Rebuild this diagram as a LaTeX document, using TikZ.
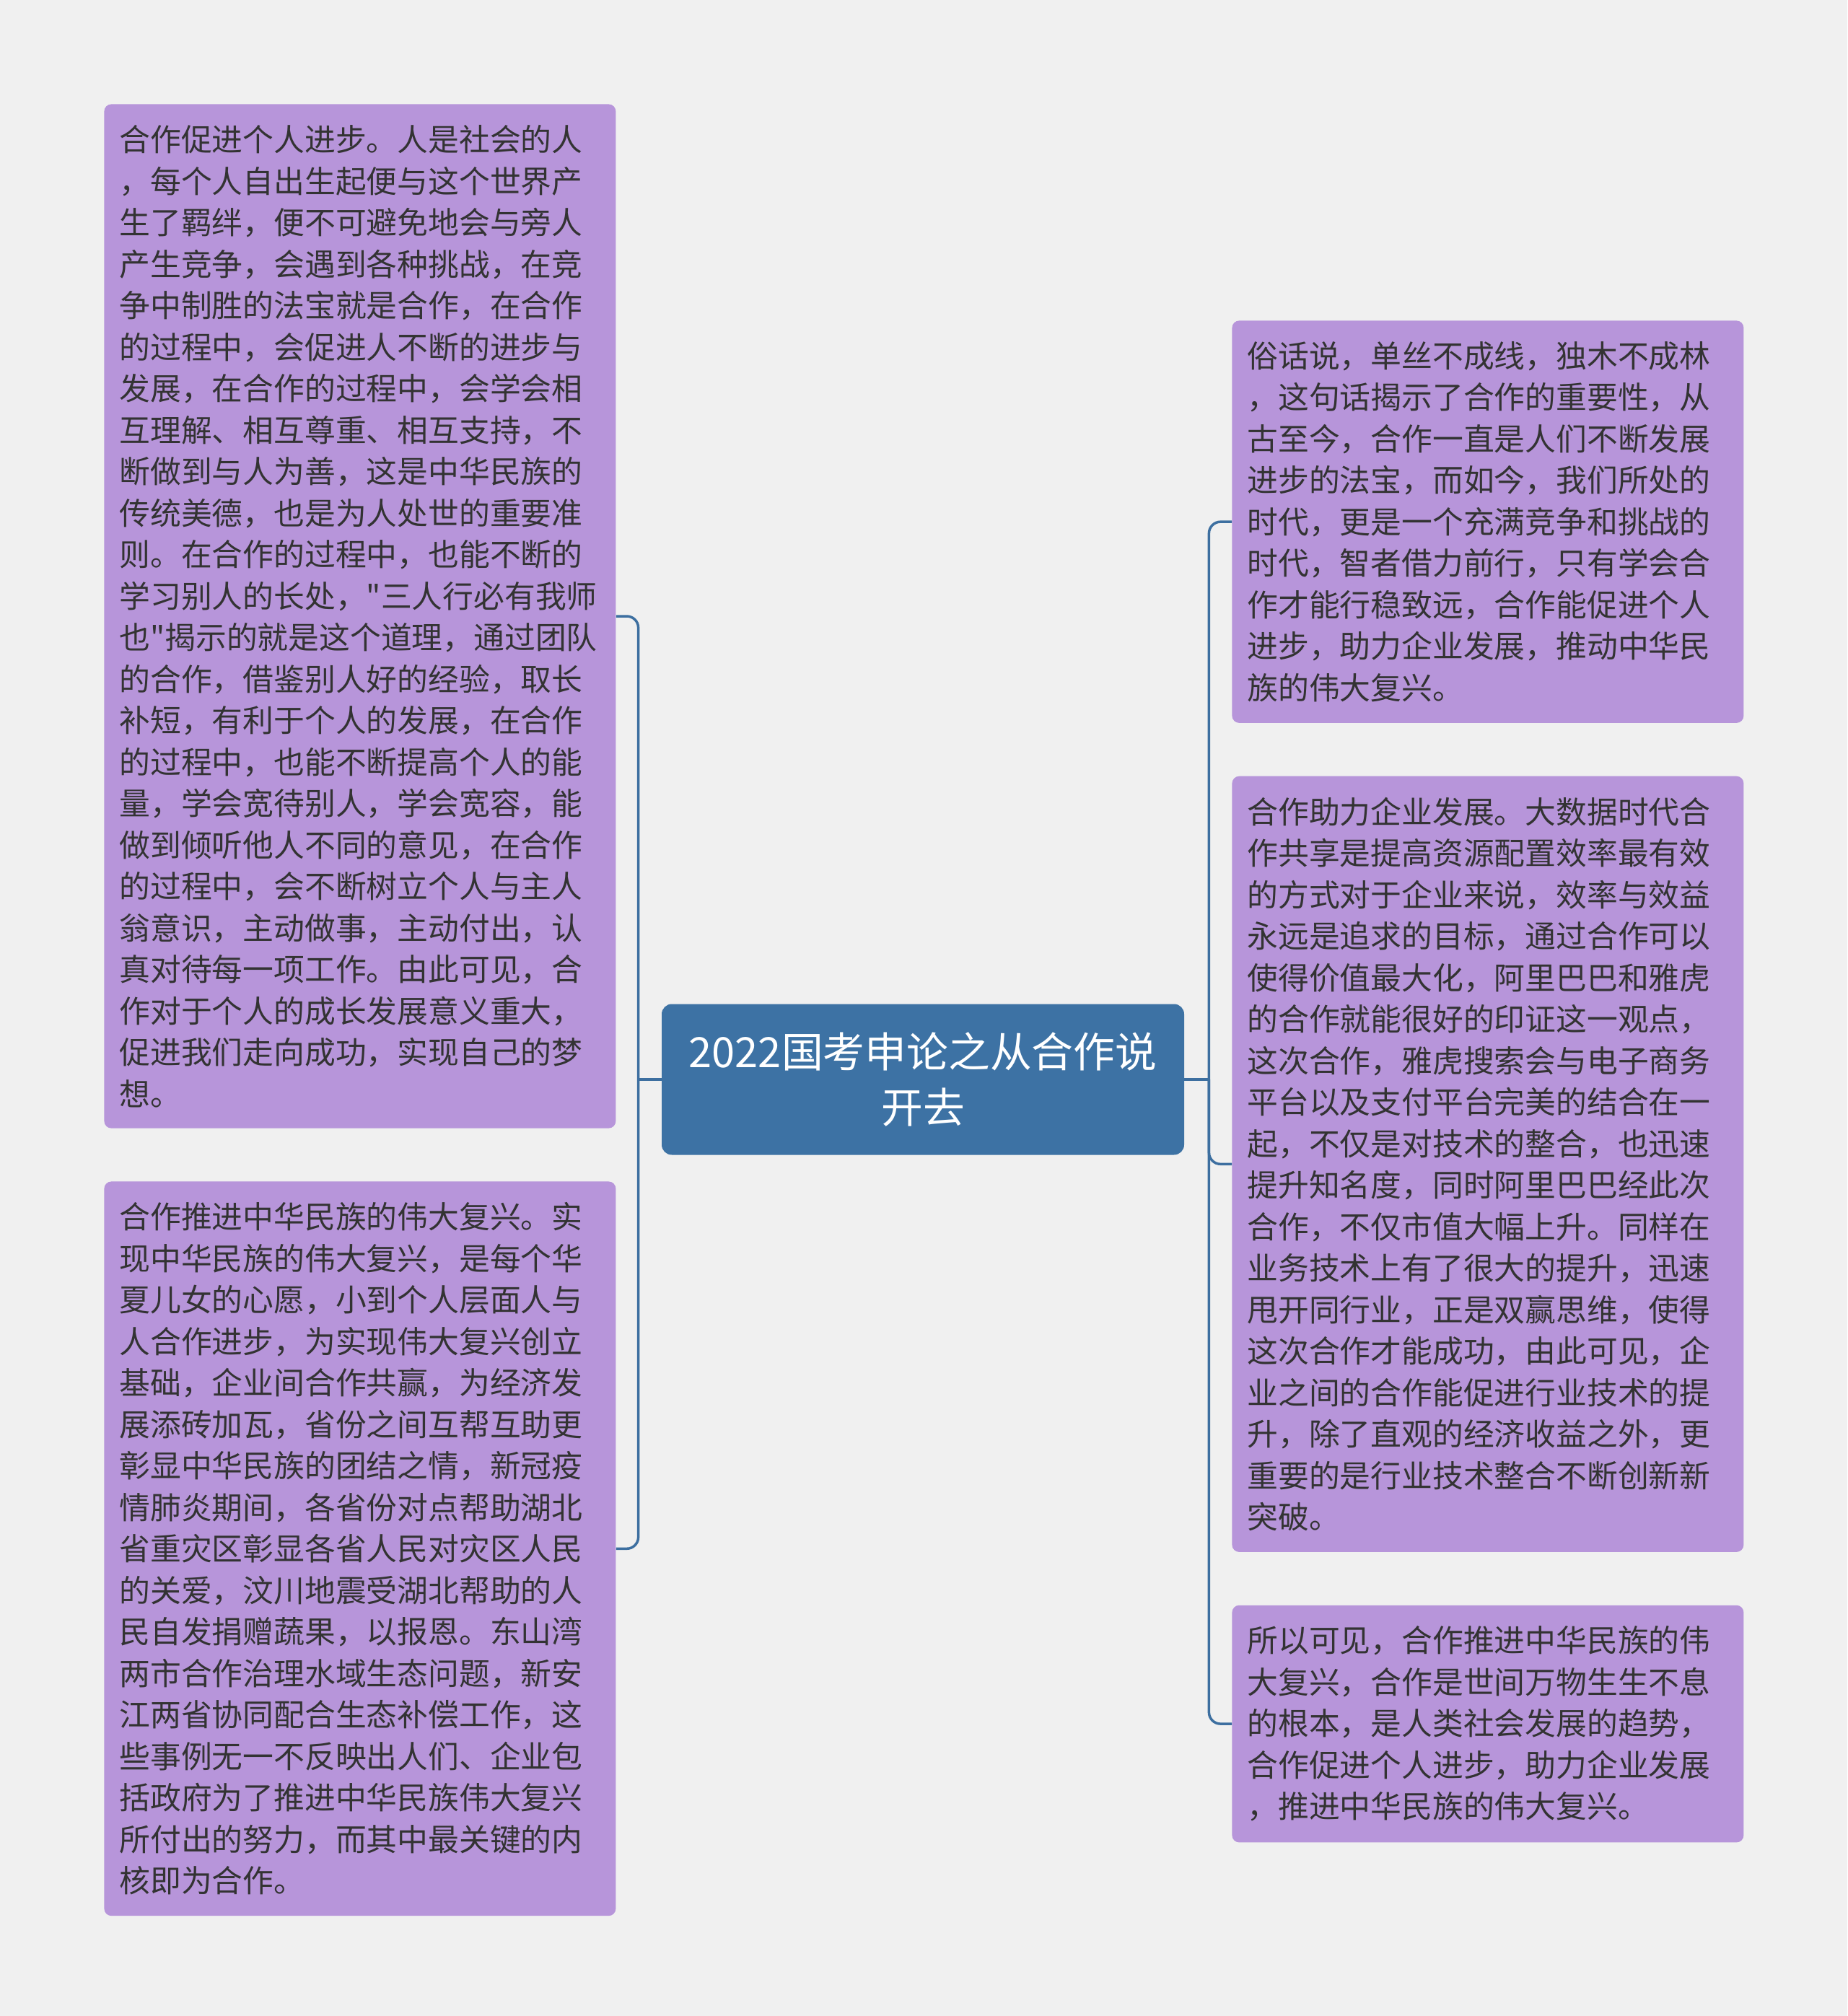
\documentclass[tikz,border=0pt]{standalone}
\usepackage{fontspec}
\newfontfamily\cjkfont{Noto Sans CJK SC}
\usepackage{tikz}
\usetikzlibrary{positioning}
\definecolor{pagebg}{HTML}{F0F0F0}
\definecolor{leafbg}{HTML}{B795DA}
\definecolor{rootbg}{HTML}{3D72A4}
\definecolor{linkcol}{HTML}{3D6FA0}
\definecolor{textcol}{HTML}{333333}

\begin{document}
\begin{tikzpicture}[node distance=36.5pt,
    leaf node/.style={rectangle,rounded corners=5pt,fill=leafbg,text=textcol,
      align=left,text width=333.5pt,inner xsep=10.5pt,inner ysep=14.5pt,
      font=\cjkfont\fontsize{21.4pt}{28.75pt}\selectfont},
    root node/.style={rectangle,rounded corners=7pt,fill=rootbg,text=white,
      align=center,minimum width=362pt,minimum height=104.5pt,
      font=\cjkfont\fontsize{28.9pt}{38.3pt}\selectfont},
    link/.style={draw=linkcol,line width=1.75pt,rounded corners=8pt}]

  \fill[pagebg] (0,0) rectangle (1280pt,-1397pt);

  \node[root node] (root) at (639.5pt,-748pt) {2022国考申论之从合作说\\开去};

  % left side
  \node[leaf node,anchor=north west] (l1) at (72pt,-72pt)
    {合作促进个人进步。人是社会的人\\，每个人自出生起便与这个世界产\\生了羁绊，便不可避免地会与旁人\\产生竞争，会遇到各种挑战，在竞\\争中制胜的法宝就是合作，在合作\\的过程中，会促进人不断的进步与\\发展，在合作的过程中，会学会相\\互理解、相互尊重、相互支持，不\\断做到与人为善，这是中华民族的\\传统美德，也是为人处世的重要准\\则。在合作的过程中，也能不断的\\学习别人的长处，"三人行必有我师\\也"揭示的就是这个道理，通过团队\\的合作，借鉴别人好的经验，取长\\补短，有利于个人的发展，在合作\\的过程中，也能不断提高个人的能\\量，学会宽待别人，学会宽容，能\\做到倾听他人不同的意见，在合作\\的过程中，会不断树立个人与主人\\翁意识，主动做事，主动付出，认\\真对待每一项工作。由此可见，合\\作对于个人的成长发展意义重大，\\促进我们走向成功，实现自己的梦\\想。};
  \node[leaf node] (l2) [below=of l1]
    {合作推进中华民族的伟大复兴。实\\现中华民族的伟大复兴，是每个华\\夏儿女的心愿，小到个人层面人与\\人合作进步，为实现伟大复兴创立\\基础，企业间合作共赢，为经济发\\展添砖加瓦，省份之间互帮互助更\\彰显中华民族的团结之情，新冠疫\\情肺炎期间，各省份对点帮助湖北\\省重灾区彰显各省人民对灾区人民\\的关爱，汶川地震受湖北帮助的人\\民自发捐赠蔬果，以报恩。东山湾\\两市合作治理水域生态问题，新安\\江两省协同配合生态补偿工作，这\\些事例无一不反映出人们、企业包\\括政府为了推进中华民族伟大复兴\\所付出的努力，而其中最关键的内\\核即为合作。};

  % right side
  \node[leaf node,anchor=north west] (r1) at (853.5pt,-222pt)
    {俗话说，单丝不成线，独木不成林\\，这句话揭示了合作的重要性，从\\古至今，合作一直是人们不断发展\\进步的法宝，而如今，我们所处的\\时代，更是一个充满竞争和挑战的\\时代，智者借力前行，只有学会合\\作才能行稳致远，合作能促进个人\\进步，助力企业发展，推动中华民\\族的伟大复兴。};
  \node[leaf node] (r2) [below=of r1]
    {合作助力企业发展。大数据时代合\\作共享是提高资源配置效率最有效\\的方式对于企业来说，效率与效益\\永远是追求的目标，通过合作可以\\使得价值最大化，阿里巴巴和雅虎\\的合作就能很好的印证这一观点，\\这次合作，雅虎搜索会与电子商务\\平台以及支付平台完美的结合在一\\起，不仅是对技术的整合，也迅速\\提升知名度，同时阿里巴巴经此次\\合作，不仅市值大幅上升。同样在\\业务技术上有了很大的提升，迅速\\甩开同行业，正是双赢思维，使得\\这次合作才能成功，由此可见，企\\业之间的合作能促进行业技术的提\\升，除了直观的经济收益之外，更\\重要的是行业技术整合不断创新新\\突破。};
  \node[leaf node] (r3) [below=of r2]
    {所以可见，合作推进中华民族的伟\\大复兴，合作是世间万物生生不息\\的根本，是人类社会发展的趋势，\\合作促进个人进步，助力企业发展\\，推进中华民族的伟大复兴。};

  % connectors
  \draw[link] (root.west) -- ++(-16pt,0) coordinate (lj);
  \draw[link] (lj) |- (l1.east);
  \draw[link] (lj) |- (l2.east);
  \draw[link] (root.east) -- ++(17pt,0) coordinate (rj);
  \draw[link] (rj) |- (r1.west);
  \draw[link] (rj) |- (r2.west);
  \draw[link] (rj) |- (r3.west);
\end{tikzpicture}
\end{document}
